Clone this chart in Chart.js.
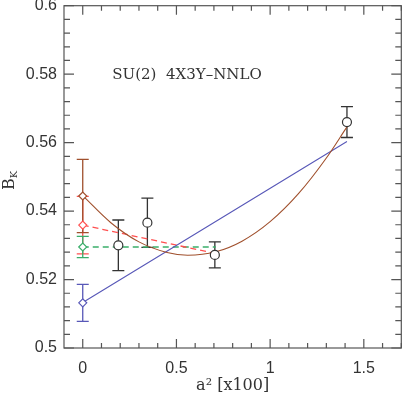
<!DOCTYPE html>
<html>
<head>
<meta charset="utf-8">
<script src="https://cdn.jsdelivr.net/npm/chart.js@4"></script>
<style>
  html, body { margin: 0; padding: 0; background: #fff; }
  #bkChart { display: block; }
</style>
</head>
<body>
<canvas id="bkChart" width="407" height="395"></canvas>
<script>
// lattice points (open circles)
const latticeA2 = [0.19, 0.345, 0.705, 1.41];
const latticeBK = [0.530, 0.5366, 0.5272, 0.566];
const latticeErr = [0.0074, 0.0072, 0.0038, 0.0045];

// continuum values at a^2 = 0 (diamonds): brown, red, green, blue
const extrapBK = [0.5444, 0.5359, 0.5295, 0.5132];
const extrapErr = [0.0107, 0.0084, 0.0031, 0.0054];

// fit curves
const quadA2 = [0, 0.15, 0.3, 0.45, 0.56, 0.71, 0.85, 1.0, 1.15, 1.3, 1.41];
const quadBK = [0.5445, 0.5366, 0.5310, 0.5279, 0.5271, 0.5281, 0.5312, 0.5369, 0.5450, 0.5555, 0.5646];
const linA2 = [0, 1.41];
const linBK = [0.5133, 0.5603];
const redA2 = [0, 0.71];
const redBK = [0.5359, 0.5276];
const greenA2 = [0, 0.71];
const greenBK = [0.5295, 0.5295];

const xTicks = [0, 0.5, 1, 1.5];
const xTickLabels = ['0', '0.5', '1', '1.5'];
const yTicks = [0.5, 0.52, 0.54, 0.56, 0.58, 0.6];
const yTickLabels = ['0.5', '0.52', '0.54', '0.56', '0.58', '0.6'];

const BROWN = '#a0502d';
const RED = '#ff5050';
const GREEN = '#3aae6a';
const BLUE = '#5858b8';
const INK = '#333';

const pts = (xs, ys) => xs.map((x, i) => ({x: x, y: ys[i]}));

function lineSet(xs, ys, color, dash) {
    return {
        data: pts(xs, ys),
        showLine: true,
        borderColor: color,
        borderWidth: dash ? 1.3 : 1.1,
        borderDash: dash ? [6, 4] : [],
        pointRadius: 0,
        fill: false,
        order: 3
    };
}

function diamond(i, color) {
    return {
        data: [{x: 0, y: extrapBK[i]}],
        errors: [extrapErr[i]],
        pointStyle: 'rectRot',
        pointRadius: 4,
        pointBorderWidth: 1.2,
        borderColor: color,
        backgroundColor: '#fff',
        order: 1
    };
}

// error bars, inward ticks, frame and the B_K label
const decorations = {
    id: 'decorations',
    beforeDatasetsDraw(chart) {
        const ctx = chart.ctx;
        const y = chart.scales.y;
        chart.data.datasets.forEach((ds, i) => {
            if (!ds.errors) return;
            const meta = chart.getDatasetMeta(i);
            ctx.save();
            ctx.strokeStyle = ds.borderColor;
            ctx.lineWidth = 1.3;
            meta.data.forEach((pt, j) => {
                const v = ds.data[j].y, e = ds.errors[j];
                const top = y.getPixelForValue(v + e);
                const bot = y.getPixelForValue(v - e);
                ctx.beginPath();
                ctx.moveTo(pt.x, top); ctx.lineTo(pt.x, bot);
                ctx.moveTo(pt.x - 6, top); ctx.lineTo(pt.x + 6, top);
                ctx.moveTo(pt.x - 6, bot); ctx.lineTo(pt.x + 6, bot);
                ctx.stroke();
            });
            ctx.restore();
        });
    },
    afterDraw(chart) {
        const {ctx, chartArea: a, scales: {x, y}} = chart;
        ctx.save();
        ctx.strokeStyle = '#555';
        ctx.lineWidth = 1.2;
        ctx.strokeRect(a.left, a.top, a.right - a.left, a.bottom - a.top);
        ctx.beginPath();
        // x ticks: minor every 0.1, major on the labelled values
        for (let k = 0; k <= 17; k++) {
            const px = x.getPixelForValue(k / 10);
            const len = (k % 5 === 0) ? 9 : 5;
            ctx.moveTo(px, a.bottom); ctx.lineTo(px, a.bottom - len);
            ctx.moveTo(px, a.top); ctx.lineTo(px, a.top + len);
        }
        // y ticks: minor every 0.004
        for (let k = 0; k <= 25; k++) {
            const py = y.getPixelForValue(0.5 + k * 0.004);
            const len = (k % 5 === 0) ? 10 : 6;
            ctx.moveTo(a.left, py); ctx.lineTo(a.left + len, py);
            ctx.moveTo(a.right, py); ctx.lineTo(a.right - len, py);
        }
        ctx.stroke();

        // y axis title B_K
        ctx.translate(14, 182);
        ctx.rotate(-Math.PI / 2);
        ctx.fillStyle = INK;
        ctx.textBaseline = 'alphabetic';
        ctx.font = '16px "DejaVu Serif"';
        ctx.fillText('B', -8, 0);
        const w = ctx.measureText('B').width;
        ctx.font = '10px "DejaVu Serif"';
        ctx.fillText('K', -8 + w, 3);

        ctx.restore();

        // panel label
        ctx.save();
        ctx.fillStyle = INK;
        ctx.font = '15px "DejaVu Serif"';
        ctx.textAlign = 'center';
        ctx.textBaseline = 'middle';
        ctx.fillText('SU(2)  4X3Y\u2013NNLO', 187, 75);
        ctx.restore();
    }
};

const ctx = document.getElementById('bkChart').getContext('2d');
const bkChart = new Chart(ctx, {
    type: 'scatter',
    data: {
        datasets: [
            lineSet(quadA2, quadBK, BROWN, false),
            lineSet(linA2, linBK, BLUE, false),
            lineSet(redA2, redBK, RED, true),
            lineSet(greenA2, greenBK, GREEN, true),
            {
                data: pts(latticeA2, latticeBK),
                errors: latticeErr,
                pointStyle: 'circle',
                pointRadius: 4.5,
                pointBorderWidth: 1.2,
                borderColor: INK,
                backgroundColor: '#fff',
                order: 1
            },
            // red bar sits underneath the brown one in the original
            diamond(1, RED),
            diamond(0, BROWN),
            diamond(2, GREEN),
            diamond(3, BLUE)
        ]
    },
    options: {
        responsive: false,
        animation: false,
        devicePixelRatio: 1,
        layout: { padding: { top: 5, right: 1, left: 0, bottom: 0 } },
        plugins: {
            legend: { display: false },
            tooltip: { enabled: false }
        },
        elements: { line: { cubicInterpolationMode: 'monotone' } },
        scales: {
            x: {
                type: 'linear',
                min: -0.1,
                max: 1.7,
                grid: { display: false, drawTicks: false },
                border: { display: false },
                afterBuildTicks: s => { s.ticks = xTicks.map(v => ({value: v})); },
                afterFit: s => { s.height = 47; s.paddingLeft = 0; s.paddingRight = 0; },
                ticks: {
                    color: INK,
                    padding: 11,
                    font: { family: '"Liberation Sans"', size: 16 },
                    callback: (v, i) => xTickLabels[i]
                },
                title: {
                    display: true,
                    text: 'a\u00b2 [x100]',
                    color: INK,
                    padding: { top: 0, bottom: 0 },
                    font: { family: '"DejaVu Serif"', size: 16 }
                }
            },
            y: {
                min: 0.5,
                max: 0.6,
                grid: { display: false, drawTicks: false },
                border: { display: false },
                afterBuildTicks: s => { s.ticks = yTicks.map(v => ({value: v})); },
                afterFit: s => { s.width = 64; s.paddingTop = 0; s.paddingBottom = 0; },
                ticks: {
                    color: INK,
                    padding: 7,
                    font: { family: '"Liberation Sans"', size: 16 },
                    callback: (v, i) => yTickLabels[i]
                }
            }
        }
    },
    plugins: [decorations]
});
</script>
</body>
</html>
